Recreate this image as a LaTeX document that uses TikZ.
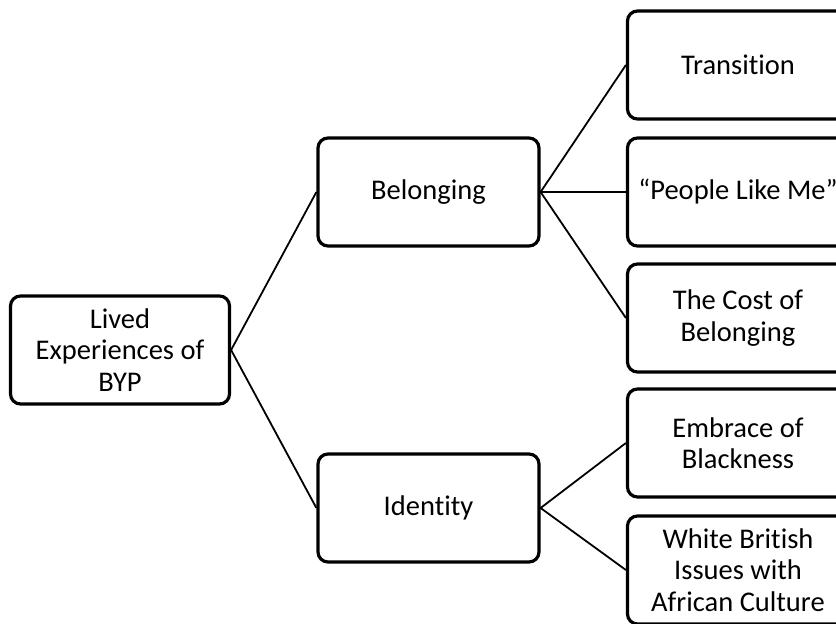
\documentclass[tikz,border=0pt]{standalone}
\usepackage{fontspec}
\setmainfont[Ligatures={TeX,NoCommon}]{Carlito}

\tikzset{
  themebox/.style={draw, line width=3.2pt, rounded corners=10pt, fill=white,
    minimum width=221pt, minimum height=108pt, align=center,
    font=\fontsize{28.5}{31.5}\selectfont},
  branch/.style={line width=1.8pt}
}

\begin{document}
\begin{tikzpicture}[x=1pt, y=-1pt]

% 1. Frame (the right column runs off the page)
\path[use as bounding box, clip] (0,0) rectangle (836,624);

% 2. Root and main themes
\node[themebox, minimum width=219pt] (byp) at (120,350) {Lived\\Experiences of\\BYP};
\node[themebox] (belong) at (428.5,192) {Belonging};
\node[themebox] (ident) at (428.5,508) {Identity};

% 3. Subthemes
\node[themebox] (trans) at (738,65) {Transition};
\node[themebox] (people) at (738,192) {“People Like Me”};
\node[themebox] (cost) at (738,318) {The Cost of\\Belonging};
\node[themebox] (embrace) at (738,443) {Embrace of\\Blackness};
\node[themebox] (white) at (738,570) {White British\\Issues with\\African Culture};

% 4. Branches
\draw[branch] (byp.east) -- (belong.west);
\draw[branch] (byp.east) -- (ident.west);
\foreach \sub in {trans,people,cost}
  \draw[branch] (belong.east) -- (\sub.west);
\foreach \sub in {embrace,white}
  \draw[branch] (ident.east) -- (\sub.west);

\end{tikzpicture}
\end{document}
